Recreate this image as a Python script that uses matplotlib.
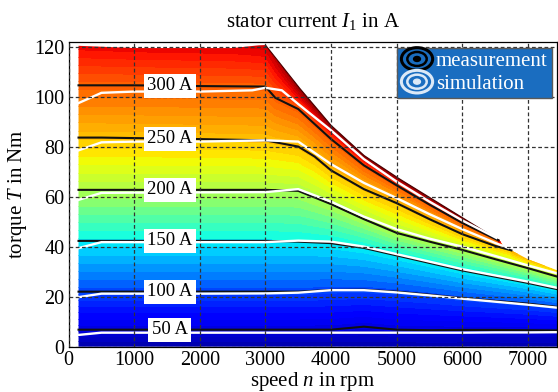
import matplotlib

matplotlib.use("Agg")
import matplotlib.pyplot as plt
import numpy as np
from matplotlib.colors import FuncNorm
from matplotlib.legend_handler import HandlerBase
from matplotlib.lines import Line2D
from matplotlib.patches import Ellipse, Polygon

plt.rcParams["font.family"] = ["Liberation Serif", "DejaVu Serif"]
plt.rcParams["mathtext.fontset"] = "custom"
plt.rcParams["mathtext.rm"] = "Liberation Serif"
plt.rcParams["mathtext.it"] = "Liberation Serif:italic"

# current levels of the iso-current lines (A)
LEVELS = [50, 100, 150, 200, 250, 300]

# speed points (rpm) for the 50 ... 200 A lines
SPEED = [150, 500, 1000, 2000, 3000, 3500, 4000, 4500, 5000, 5500, 6000, 6500, 7000, 7450]

# measured iso-current lines, torque in Nm
MEAS_50 = [6.8, 6.8, 6.8, 6.8, 6.8, 6.8, 6.8, 8.0, 6.8, 6.6, 6.7, 6.7, 6.6, 6.5]
MEAS_100 = [22.0, 22.0, 22.0, 22.0, 22.0, 22.0, 22.7, 22.8, 22.0, 20.8, 19.4, 18.3, 17.2, 15.9]
MEAS_150 = [42.3, 42.3, 42.3, 42.3, 42.3, 42.0, 41.4, 39.5, 36.5, 33.5, 30.5, 28.0, 25.5, 23.0]
MEAS_200 = [62.7, 62.7, 62.7, 62.7, 62.7, 62.3, 57.0, 51.0, 45.5, 42.0, 38.7, 35.0, 31.4, 28.0]
MEAS_250_SPEED = [150, 500, 1000, 2000, 3000, 3500, 3750, 4000, 4500, 5000, 5500, 6000, 6500, 6750]
MEAS_250 = [83.6, 83.6, 83.4, 83.0, 82.5, 80.0, 76.0, 70.5, 63.0, 57.4, 51.0, 45.0, 40.3, 38.5]
MEAS_300_SPEED = [150, 500, 1000, 2000, 3000, 3150, 3500, 4000, 4500, 5000, 5500, 6000, 6550]
MEAS_300 = [104.5, 104.5, 104.5, 104.2, 104.0, 99.5, 95.0, 83.0, 72.5, 64.5, 56.8, 49.5, 42.5]

# simulated iso-current lines, torque in Nm
SIM_50 = [4.7, 5.6, 5.6, 5.6, 5.6, 5.6, 5.6, 5.6, 5.6, 5.6, 5.6, 5.7, 5.7, 5.8]
SIM_100 = [19.8, 21.2, 21.2, 21.2, 21.3, 21.6, 22.6, 22.6, 21.7, 20.5, 19.2, 18.0, 16.8, 15.6]
SIM_150 = [39.4, 41.8, 41.8, 41.8, 41.8, 42.4, 42.0, 40.0, 37.0, 34.0, 31.0, 28.5, 26.0, 23.5]
SIM_200 = [58.7, 61.5, 61.6, 61.7, 61.8, 63.0, 58.0, 52.0, 47.0, 43.2, 40.0, 36.3, 32.5, 29.3]
SIM_250_SPEED = [150, 500, 1000, 2000, 3000, 3500, 4000, 4500, 5000, 5500, 6000, 6500, 6700]
SIM_250 = [78.5, 81.7, 82.0, 82.0, 82.5, 82.0, 73.0, 65.5, 59.4, 53.0, 47.0, 41.5, 39.5]
SIM_300_SPEED = [150, 500, 1000, 2000, 2800, 3000, 3250, 3500, 4000, 4500, 5000, 5500, 6000, 6520]
SIM_300 = [97.4, 101.5, 102.0, 102.0, 102.5, 103.5, 102.5, 97.0, 86.5, 75.0, 66.0, 58.0, 50.5, 43.5]

# operating range limit (max torque) and the current reached along it
BOUND_SPEED = [150, 1000, 2500, 2900, 3000, 3500, 4000, 4500, 5000, 5500, 6000, 6500, 6570, 6620, 7000, 7450]
BOUND_TORQUE = [120.3, 119.4, 119.4, 120.5, 120.6, 104.0, 88.5, 76.5, 67.8, 59.7, 51.6, 43.5, 42.5, 40.3, 35.0, 30.5]
BOUND_CURRENT = [340, 340, 342, 348, 350, 370, 375, 375, 375, 375, 372, 370, 368, 262, 252, 245]
BASE_CURRENT = 25  # current at zero torque

# colour scale: current (A) -> position on the jet map
CMAP_CURRENT = [0, 50, 100, 150, 200, 250, 300, 380]
CMAP_POS = [0.02, 0.1, 0.21, 0.37, 0.57, 0.71, 0.81, 1.0]

LABEL_SPEED = 1540


class RingHandler(HandlerBase):
    """Concentric ellipses used as legend keys."""

    def __init__(self, color):
        super().__init__()
        self.color = color

    def create_artists(self, legend, orig_handle, xdescent, ydescent, width, height, fontsize, trans):
        cx = width / 2 - xdescent
        cy = height / 2 - ydescent
        out = []
        for k, lw in ((1.0, 2.2), (0.62, 1.8)):
            out.append(Ellipse((cx, cy), width * k, height * 1.55 * k, fill=False,
                               lw=lw, edgecolor=self.color, transform=trans))
        out.append(Ellipse((cx, cy), width * 0.22, height * 1.55 * 0.22, color=self.color, transform=trans))
        return out


meas = [(SPEED, MEAS_50), (SPEED, MEAS_100), (SPEED, MEAS_150), (SPEED, MEAS_200),
        (MEAS_250_SPEED, MEAS_250), (MEAS_300_SPEED, MEAS_300)]
sim = [(SPEED, SIM_50), (SPEED, SIM_100), (SPEED, SIM_150), (SPEED, SIM_200),
       (SIM_250_SPEED, SIM_250), (SIM_300_SPEED, SIM_300)]

# current map built column by column from the measured lines
grid_n = np.linspace(BOUND_SPEED[0], BOUND_SPEED[-1], 700)
grid_t = np.linspace(0, 122, 600)
top_t = np.interp(grid_n, BOUND_SPEED, BOUND_TORQUE)
top_i = np.interp(grid_n, BOUND_SPEED, BOUND_CURRENT)
field = np.empty((grid_t.size, grid_n.size))
for j, n in enumerate(grid_n):
    pts_t = [0.0]
    pts_i = [BASE_CURRENT]
    for level, (sp, tq) in zip(LEVELS, meas):
        if sp[0] <= n <= sp[-1]:
            t = float(np.interp(n, sp, tq))
            if t < top_t[j]:
                pts_t.append(t)
                pts_i.append(level)
    pts_t.append(top_t[j])
    pts_i.append(top_i[j])
    field[:, j] = np.interp(grid_t, pts_t, pts_i)

norm = FuncNorm((lambda v: np.interp(v, CMAP_CURRENT, CMAP_POS),
                 lambda p: np.interp(p, CMAP_POS, CMAP_CURRENT)), vmin=0, vmax=380)

fig = plt.figure(figsize=(5.58, 3.92), dpi=100)
ax = fig.add_axes([0.1231, 0.1156, 0.8749, 0.7765])

cs = ax.contourf(grid_n, grid_t, field, levels=np.arange(0, 392, 8), cmap="jet",
                 norm=norm, zorder=1)
region = np.column_stack([np.r_[grid_n[0], grid_n, grid_n[-1]], np.r_[0, top_t, 0]])
clip = Polygon(region, closed=True, transform=ax.transData, facecolor="none", edgecolor="none")
ax.add_patch(clip)
cs.set_clip_path(clip)

# dark rim along the field-weakening limit
rim = (grid_n >= 3000) & (grid_n <= 6570)
ax.plot(grid_n[rim], top_t[rim], color="#4a0000", lw=0.8, zorder=2)

for sp, tq in sim:
    ax.plot(sp, tq, color="white", lw=1.7, zorder=2.2)
for sp, tq in meas:
    ax.plot(sp, tq, color="#111111", lw=1.5, zorder=2.1)

for level, (sp, tq) in zip(LEVELS, meas):
    ax.text(LABEL_SPEED, np.interp(LABEL_SPEED, sp, tq), f"{level} A", fontsize=13.5,
            ha="center", va="center", zorder=4,
            bbox=dict(boxstyle="square,pad=0.18", facecolor="white", edgecolor="none"))

ax.set_xlim(0, 7443)
ax.set_ylim(0, 121.7)
ax.set_xticks(np.arange(0, 7001, 1000))
ax.set_yticks(np.arange(0, 121, 20))
ax.tick_params(labelsize=14.5, length=0, pad=3)
ax.grid(True, color="0.2", lw=0.9, linestyle=(0, (3, 2)))
ax.set_axisbelow(False)
for s in ax.spines.values():
    s.set_linewidth(0.9)

ax.set_title("stator current $I_1$ in A", fontsize=15, pad=11)
ax.set_xlabel("speed $n$ in rpm", fontsize=15, labelpad=0)
ax.set_ylabel("torque $T$ in Nm", fontsize=15, labelpad=4)

h_meas = Line2D([], [])
h_sim = Line2D([], [])
leg = ax.legend([h_meas, h_sim], ["measurement", "simulation"], loc="upper right",
                handler_map={h_meas: RingHandler("black"), h_sim: RingHandler("#dce9f7")},
                fontsize=15, frameon=True, fancybox=False, framealpha=1, facecolor="#1a6dc0",
                edgecolor="0.35", handlelength=1.5, handletextpad=0.15, labelspacing=0.15,
                borderpad=0.2, borderaxespad=0.25, labelcolor="white")
leg.set_zorder(5)

fig.savefig("out.png", dpi=100)
